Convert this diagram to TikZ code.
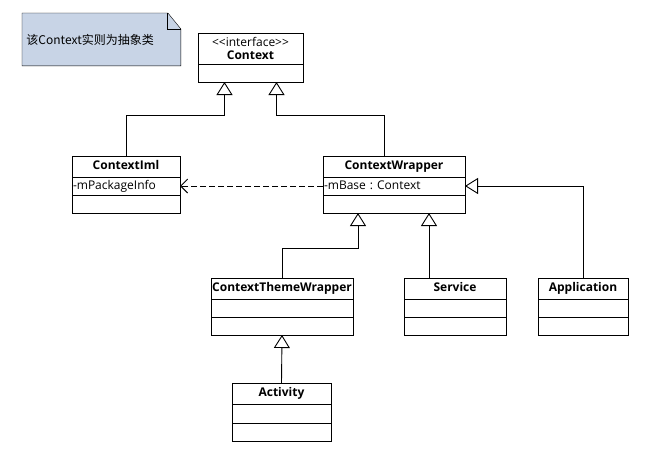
\documentclass[tikz,border=0pt]{standalone}
\usepackage{fontspec}
\setmainfont{Open Sans}
\newfontfamily\cjk{Noto Sans CJK SC}
\usepackage{xcolor}
\definecolor{notebg}{RGB}{200,212,230}
\usepackage{tikz}
\usetikzlibrary{arrows.meta,positioning,backgrounds}
\newcommand{\umlsize}{\fontsize{12pt}{13pt}\selectfont\frenchspacing}

\begin{document}
\begin{tikzpicture}[
    x=1pt, y=-1pt,
    line width=0.9pt,
    font=\umlsize,
    hdr/.style={draw, outer sep=0pt, inner sep=0pt, minimum width=#1, minimum height=21pt,
                text height=9pt, text depth=3pt, font=\umlsize\bfseries},
    attr/.style={draw, outer sep=0pt, inner xsep=1pt, inner ysep=0pt, text width=#1, minimum height=18pt,
                 text height=9pt, text depth=3pt, align=left},
    cmp/.style={draw, outer sep=0pt, inner sep=0pt, minimum width=#1, minimum height=18pt},
    inh/.style={-{Triangle[open, fill=white, length=13pt, width=16pt]}},
    dep/.style={dash pattern=on 6pt off 3pt, -{Straight Barb[length=7pt, width=14pt]}}
]
\useasboundingbox (0,0) rectangle (654,461);

% note
\node[anchor=north west, minimum width=158pt, minimum height=52pt, text width=150pt,
      inner xsep=4pt, align=left, font=\cjk\umlsize] (note) at (22,13) {该Context实则为抽象类};
\begin{scope}[on background layer]
\draw[fill=notebg] (note.north west) -- ([xshift=-13pt]note.north east) -- ([yshift=-16pt]note.north east)
    -- (note.south east) -- (note.south west) -- cycle;
\end{scope}
\draw ([xshift=-13pt]note.north east) |- ([yshift=-16pt]note.north east);

% interface
\node[hdr=105pt, minimum height=31pt, text height=, text depth=, align=center, font=\umlsize, anchor=north west] (ctx) at (198,33)
    {<\kern0pt<interface>\kern0pt>\\\textbf{Context}};
\node[cmp=105pt, below=0pt of ctx] (ctxop) {};

% classes
\node[hdr=108pt, anchor=north west] (iml) at (72,156) {ContextIml};
\node[attr=106pt, below=0pt of iml] (imlattr) {-mPackageInfo};
\node[cmp=108pt, below=0pt of imlattr] (imlop) {};

\node[hdr=142pt, anchor=north west] (wrap) at (323,156) {ContextWrapper};
\node[attr=140pt, below=0pt of wrap] (wrapattr) {-mBase : Context};
\node[cmp=142pt, below=0pt of wrapattr] (wrapop) {};

\node[hdr=142pt, anchor=north west] (theme) at (211,278) {ContextThemeWrapper};
\node[cmp=142pt, below=0pt of theme] (themeattr) {};
\node[cmp=142pt, below=0pt of themeattr] (themeop) {};

\node[hdr=102pt, anchor=north west] (svc) at (404,278) {Service};
\node[cmp=102pt, below=0pt of svc] (svcattr) {};
\node[cmp=102pt, below=0pt of svcattr] (svcop) {};

\node[hdr=90pt, anchor=north west] (app) at (538,278) {Application};
\node[cmp=90pt, below=0pt of app] (appattr) {};
\node[cmp=90pt, below=0pt of appattr] (appop) {};

\node[hdr=99pt, anchor=north west] (act) at (232,383) {Activity};
\node[cmp=99pt, below=0pt of act, minimum height=19pt] (actattr) {};
\node[cmp=99pt, below=0pt of actattr] (actop) {};

% inheritance
\draw[inh] (iml.north) -- ++(0,-41) -| ([xshift=-26pt]ctxop.south);
\draw[inh] ([xshift=-10pt]wrap.north) -- ++(0,-41) -| ([xshift=26pt]ctxop.south);
\draw[inh] (theme.north) -- ++(0,-30) -| ([xshift=-36pt]wrapop.south);
\draw[inh] ([xshift=-26pt]svc.north) -- ([xshift=-26pt]svc.north |- wrapop.south);
\draw[inh] (app.north) |- (wrapattr.east);
\draw[inh] (act.north) -- (themeop.south);

% dependency
\draw[dep] (wrapattr.west) -- (imlattr.east);
\end{tikzpicture}
\end{document}
